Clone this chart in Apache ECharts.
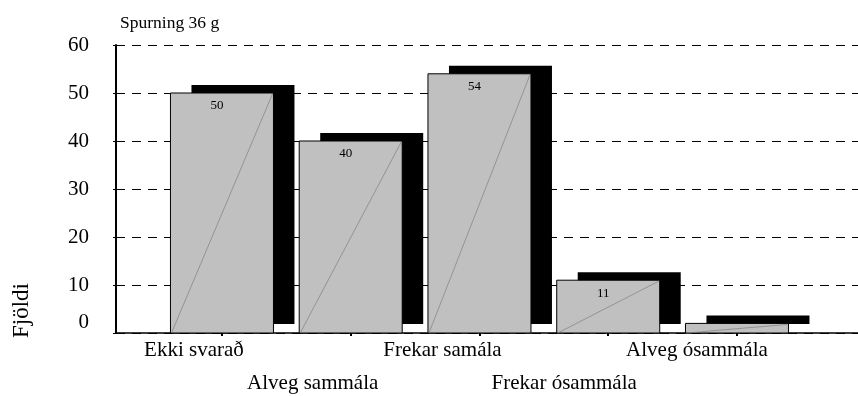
<!DOCTYPE html>
<html>
<head>
<meta charset="utf-8">
<script src="https://cdn.jsdelivr.net/npm/echarts@6/dist/echarts.min.js"></script>
<style>html,body{margin:0;padding:0;background:#fff}#c{width:858px;height:396px}</style>
</head>
<body>
<div id="c"></div>
<script>
const categories = ['Ekki svarað', 'Alveg sammála', 'Frekar samála', 'Frekar ósammála', 'Alveg ósammála'];
const values = [50, 40, 54, 11, 2];
const titleText = 'Spurning 36 g';
const yName = 'Fjöldi';

const FONT = "'Liberation Serif', 'Times New Roman', serif";
const chart = echarts.init(document.getElementById('c'), null, { renderer: 'canvas' });
const catIdx = categories.map((c, i) => i);
const LBL = 21;

const option = {
  animation: false,
  backgroundColor: '#fff',
  title: {
    text: titleText, left: 115, top: 9,
    textStyle: { fontFamily: FONT, fontSize: 17.5, fontWeight: 'normal', color: '#000' }
  },
  graphic: [{
    type: 'text', left: 10, top: 283, rotation: Math.PI / 2,
    style: { text: yName, font: '23px ' + FONT, fill: '#000' }
  }],
  grid: { left: 116, right: 0, top: 45, bottom: 63, containLabel: false },
  xAxis: {
    type: 'value', min: -0.823, max: 4.94,
    axisLine: { show: true, onZero: false, lineStyle: { color: '#000', width: 1.5 } },
    splitLine: { show: false },
    axisTick: { show: true, customValues: catIdx, length: 3, lineStyle: { color: '#000', width: 2 } },
    axisLabel: {
      show: true, customValues: catIdx, margin: 7,
      fontFamily: FONT, fontSize: LBL, color: '#000',
      formatter: function (v) { const i = Math.round(v); return '{a' + i + '|' + categories[i] + '}'; },
      rich: {
        a0: { fontFamily: FONT, fontSize: LBL, padding: [0, 56, 0, 0] },
        a1: { fontFamily: FONT, fontSize: LBL, padding: [33, 76, 0, 0] },
        a2: { fontFamily: FONT, fontSize: LBL, padding: [0, 74, 0, 0] },
        a3: { fontFamily: FONT, fontSize: LBL, padding: [33, 88, 0, 0] },
        a4: { fontFamily: FONT, fontSize: LBL, padding: [0, 80, 0, 0] }
      }
    }
  },
  yAxis: {
    type: 'value', min: 0, max: 60, interval: 10,
    axisLine: { show: true, onZero: false, lineStyle: { color: '#000', width: 2 } },
    axisTick: { show: true, length: 3, lineStyle: { color: '#000' } },
    splitLine: { show: true, lineStyle: { color: '#000', type: [9, 7], width: 1 } },
    axisLabel: {
      margin: 27, fontFamily: FONT, fontSize: LBL, color: '#000',
      formatter: function (v) { return v === 0 ? '{z|0}' : String(v); },
      rich: { z: { fontFamily: FONT, fontSize: LBL, padding: [0, 0, 22, 0] } }
    }
  },
  series: [{
    type: 'custom',
    data: values.map((v, i) => [i, v]),
    clip: false,
    renderItem: function (params, api) {
      const x = api.value(0), v = api.value(1);
      const top = api.coord([x, v]);
      const base = api.coord([x, 0]);
      const w = api.size([0.8, 0])[0];
      const left = top[0] - w / 2;
      const children = [
        { type: 'rect', shape: { x: left + 21, y: top[1] - 8, width: w, height: (base[1] - 9) - (top[1] - 8) }, style: { fill: '#000' } },
        { type: 'rect', shape: { x: left, y: top[1], width: w, height: base[1] - top[1] }, style: { fill: '#c0c0c0', stroke: '#000', lineWidth: 1 } },
        { type: 'line', shape: { x1: left + 1, y1: base[1], x2: left + w - 1, y2: top[1] + 1 }, style: { stroke: '#808080', lineWidth: 0.7 } }
      ];
      if (v >= 5) {
        children.push({ type: 'text', style: { x: top[0] - 5, y: top[1] + 13, text: String(v), font: '13px ' + FONT, fill: '#000', align: 'center', verticalAlign: 'middle' } });
      }
      return { type: 'group', children: children };
    }
  }]
};
chart.setOption(option);
</script>
</body>
</html>
